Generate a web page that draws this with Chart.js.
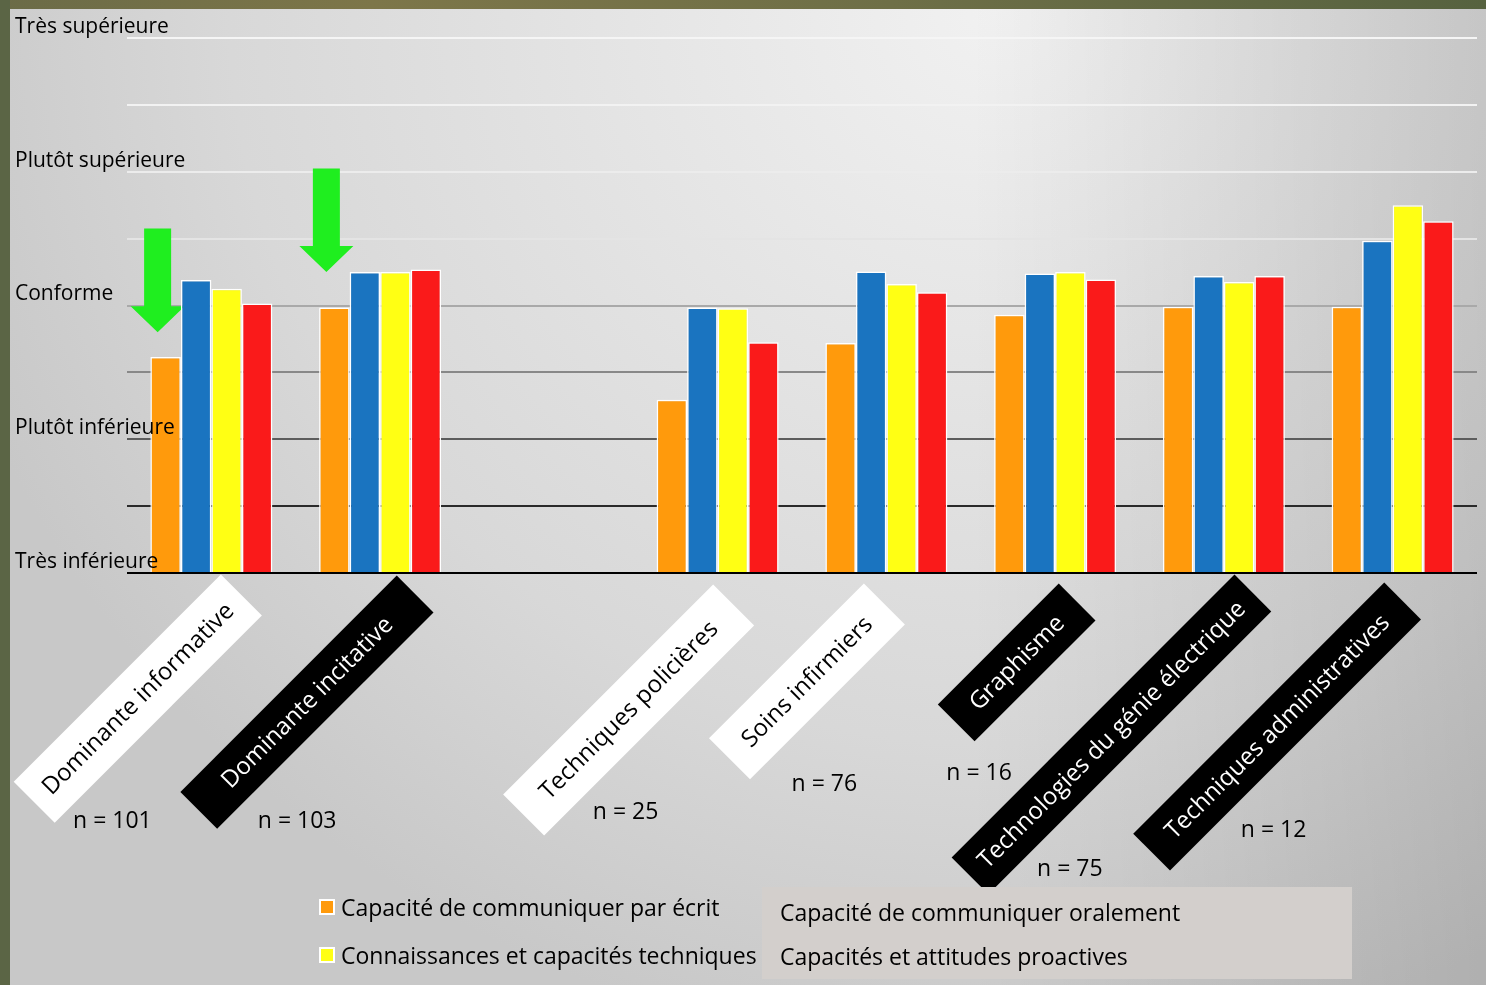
<!DOCTYPE html>
<html lang="fr">
<head>
<meta charset="utf-8">
<title>Compétences par programme</title>
<script src="https://cdn.jsdelivr.net/npm/chart.js@4.4.0/dist/chart.umd.min.js"></script>
<style>
  html, body { margin: 0; padding: 0; }
  body { width: 1486px; height: 985px; position: relative; overflow: hidden; font-family: 'Open Sans', sans-serif; }
  #panel {
    position: absolute; left: 10px; top: 9px; right: 0; bottom: 0;
    background:
      linear-gradient(to right, rgba(0,0,0,0) 65%, rgba(0,0,0,0.12) 100%),
      radial-gradient(ellipse 1100px 1050px at 990px 0px, #f1f1f1 0%, #d8d8d8 70%, #c8c8c8 100%);
  }
  #topband { position: absolute; left: 0; top: 0; width: 1486px; height: 9px;
    background: linear-gradient(to right, #6b6b47 0%, #7d7649 25%, #6e6f47 60%, #56623f 100%); }
  #leftband { position: absolute; left: 0; top: 0; width: 10px; height: 985px; background: #5b6545; }
  canvas { position: absolute; left: 0; top: 0; }
  .leg { position: absolute; font-size: 23px; line-height: 32px; color: #000; white-space: nowrap; }
  .swatch { position: absolute; width: 12px; height: 12px; border: 2px solid #fff; }
  #legbox { position: absolute; left: 762px; top: 887px; width: 590px; height: 92px; background: #d3cfcc; }
</style>
</head>
<body>
<div id="panel"></div>
<div id="topband"></div>
<div id="leftband"></div>
<canvas id="myChart" width="1486" height="985"></canvas>
<div id="legbox"></div>
<div id="legend"></div>
<script>
'use strict';
const categories = ['Dominante informative',
  'Dominante incitative',
  '',
  'Techniques policières',
  'Soins infirmiers',
  'Graphisme',
  'Technologies du génie électrique',
  'Techniques administratives',
];
const sampleSizes = [101, 103, null, 25, 76, 16, 75, 12];

const seriesNames = ['Capacité de communiquer par écrit',
  'Capacité de communiquer oralement',
  'Connaissances et capacités techniques',
  'Capacités et attitudes proactives',
];
const seriesColors = ['#ff9a0c', '#1a74c0', '#ffff14', '#fa1a1a'];

const ecrit = [3.23, 3.97, null, 2.59, 3.44, 3.86, 3.98, 3.98];
const oral = [4.38, 4.50, null, 3.97, 4.51, 4.48, 4.44, 4.97];
const techniques = [4.25, 4.50, null, 3.96, 4.32, 4.50, 4.35, 5.50];
const proactives = [4.03, 4.54, null, 3.45, 4.20, 4.39, 4.44, 5.26];

const yTickLabels = ['Très inférieure', '', 'Plutôt inférieure', '', 'Conforme', '',
  'Plutôt supérieure', '', 'Très supérieure'];

// green arrows pointing at the two "Dominante" groups
const arrowCategory = [0, 1];
const arrowTip = [3.6, 4.5];
const arrowTail = [5.15, 6.05];

// layout of the rotated category boxes and n labels (pixels from the tick / axis)
const boxDx = [30, 35, 0, 16, -2, 22, 29, 10];
const boxDy = [22, 21, 0, 32, 31, 29, 20, 28];
const boxLen = [293, 306, 0, 297, 219, 171, 400, 355];
const boxDark = [false, true, false, false, false, true, true, true];
const nDx = [-99, -83, 0, -92, -62, -76, -154, -119];
const nDy = [248, 248, 0, 239, 211, 200, 296, 257];

const gridColors = ['#000000', '#2a2a2a', '#5c5c5c', '#888888', '#a9a9a9',
  '#e4e4e4', '#ececec', '#f2f2f2', '#f5f5f5'];

const arrowsPlugin = {
  id: 'arrows',
  beforeDatasetsDraw(chart) {
    const ctx = chart.ctx;
    const y = chart.scales.y;
    const meta = chart.getDatasetMeta(0);
    ctx.save();
    ctx.fillStyle = '#1fee1f';
    for (let i = 0; i < arrowCategory.length; i++) {
      const bar = meta.data[arrowCategory[i]];
      const cx = bar.x - 8;
      const tip = y.getPixelForValue(arrowTip[i]);
      const tail = y.getPixelForValue(arrowTail[i]);
      const headH = 26;
      ctx.beginPath();
      ctx.moveTo(cx - 13.5, tail);
      ctx.lineTo(cx + 13.5, tail);
      ctx.lineTo(cx + 13.5, tip - headH);
      ctx.lineTo(cx + 27, tip - headH);
      ctx.lineTo(cx, tip);
      ctx.lineTo(cx - 27, tip - headH);
      ctx.lineTo(cx - 13.5, tip - headH);
      ctx.closePath();
      ctx.fill();
    }
    ctx.restore();
  }
};

// y labels sit above their grid line and run over the bars
const yLabelsPlugin = {
  id: 'yLabels',
  afterDatasetsDraw(chart) {
    const ctx = chart.ctx;
    const y = chart.scales.y;
    ctx.save();
    ctx.font = '21px "Open Sans"';
    ctx.fillStyle = '#000';
    ctx.textAlign = 'left';
    ctx.textBaseline = 'middle';
    for (let v = 0; v < yTickLabels.length; v++) {
      if (!yTickLabels[v]) continue;
      ctx.fillText(yTickLabels[v], 15, y.getPixelForValue(v) - 11);
    }
    ctx.restore();
  }
};

const boxLabelsPlugin = {
  id: 'boxLabels',
  afterDraw(chart) {
    const ctx = chart.ctx;
    const x = chart.scales.x;
    const base = chart.chartArea.bottom;
    for (let i = 0; i < categories.length; i++) {
      if (!categories[i]) continue;
      const cx = x.getPixelForValue(i);
      const thick = boxDark[i] ? 52 : 58;
      ctx.save();
      ctx.translate(cx + boxDx[i], base + boxDy[i]);
      ctx.rotate(-Math.PI / 4);
      ctx.fillStyle = boxDark[i] ? '#000' : '#fff';
      ctx.fillRect(-boxLen[i], -thick / 2, boxLen[i], thick);
      ctx.fillStyle = boxDark[i] ? '#fff' : '#000';
      ctx.font = '24px "Open Sans"';
      ctx.textAlign = 'center';
      ctx.textBaseline = 'middle';
      ctx.fillText(categories[i], -boxLen[i] / 2, 1);
      ctx.restore();

      ctx.save();
      ctx.font = '23px "Open Sans"';
      ctx.fillStyle = '#000';
      ctx.textAlign = 'center';
      ctx.textBaseline = 'middle';
      ctx.fillText('n = ' + sampleSizes[i], cx + nDx[i], base + nDy[i]);
      ctx.restore();
    }
  }
};

function buildLegend() {
  const legend = document.getElementById('legend');
  const rows = [907, 955];
  const rowsRight = [912, 956];
  for (let i = 0; i < seriesNames.length; i++) {
    const row = Math.floor(i / 2);
    const el = document.createElement('div');
    el.className = 'leg';
    el.textContent = seriesNames[i];
    if (i % 2 === 0) {
      el.style.left = '341px';
      el.style.top = (rows[row] - 16) + 'px';
      const sw = document.createElement('div');
      sw.className = 'swatch';
      sw.style.background = seriesColors[i];
      sw.style.left = '319px';
      sw.style.top = (rows[row] - 8) + 'px';
      legend.appendChild(sw);
    } else {
      el.style.left = '780px';
      el.style.top = (rowsRight[row] - 16) + 'px';
    }
    legend.appendChild(el);
  }
}

function chartRender() {
  const ctx = document.getElementById('myChart').getContext('2d');
  const series = [ecrit, oral, techniques, proactives];
  new Chart(ctx, {
    type: 'bar',
    data: {
      labels: categories,
      datasets: series.map((d, i) => ({
        label: seriesNames[i],
        data: d,
        backgroundColor: seriesColors[i],
        borderColor: '#ffffff',
        borderWidth: 1.5,
      })),
    },
    options: {
      responsive: false,
      animation: false,
      layout: { padding: { left: 15, right: 9, top: 38, bottom: 412 } },
      plugins: { legend: { display: false }, tooltip: { enabled: false } },
      datasets: { bar: { categoryPercentage: 0.723, barPercentage: 1 } },
      scales: {
        x: { display: false },
        y: {
          min: 0,
          max: 8,
          afterFit(scale) {
            scale.width = 112;
            scale.paddingTop = 0;
            scale.paddingBottom = 0;
          },
          border: { display: false },
          grid: {
            drawTicks: false,
            lineWidth: 2,
            color: (c) => gridColors[c.tick.value] || '#aaa',
          },
          ticks: {
            stepSize: 1,
            display: false,
          },
        },
      },
    },
    plugins: [arrowsPlugin, yLabelsPlugin, boxLabelsPlugin],
  });
}

buildLegend();
document.fonts.load('23px "Open Sans"').then(chartRender, chartRender);
</script>
</body>
</html>
